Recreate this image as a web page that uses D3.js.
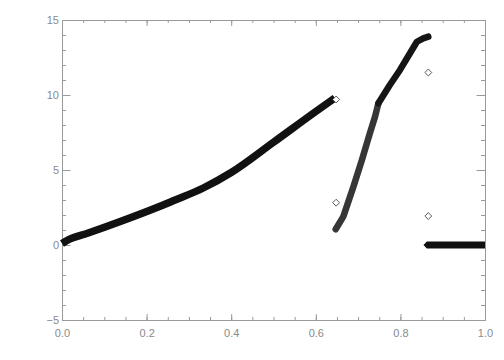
<!DOCTYPE html>
<meta charset="utf-8">
<script src="https://d3js.org/d3.v7.min.js"></script>
<style>
  body { margin: 0; background: #fff; }
  .axis { color: #9a9a9a; }
  .axis text { font-family: "Liberation Sans", Arial, sans-serif; font-size: 11px; fill: #8a8a8a; }
</style>
<body>
<div id="my_dataviz"></div>
<script>
// curve values
var curve1X = [0, 0.015, 0.062, 0.141, 0.22, 0.263, 0.334, 0.401, 0.5, 0.6, 0.645];
var curve1Y = [0.1, 0.35, 0.8, 1.6, 2.45, 2.95, 3.8, 4.85, 6.85, 8.9, 9.8];

var curve2X = [0.647, 0.665, 0.689, 0.709, 0.728, 0.740, 0.748, 0.775, 0.799, 0.823, 0.839, 0.854, 0.866];
var curve2Y = [1.05, 1.89, 3.89, 5.67, 7.47, 8.55, 9.45, 10.67, 11.67, 12.8, 13.55, 13.78, 13.89];

var curve3X = [0.862, 1.0];
var curve3Y = [0, 0];

// single diamonds off the curves
var loneX = [0.648, 0.648, 0.866, 0.866];
var loneY = [9.7, 2.82, 11.5, 1.93];

var xMajor = [0, 0.2, 0.4, 0.6, 0.8, 1.0];
var xMinor = d3.range(0, 1.0001, 0.05);
var yMajor = [-5, 0, 5, 10, 15];
var yMinor = d3.range(-5, 15.001, 1);

var margin = {top: 20, right: 19, bottom: 40, left: 62},
    width = 504 - margin.left - margin.right,
    height = 360 - margin.top - margin.bottom;

var svg = d3.select("#my_dataviz")
  .append("svg")
    .attr("width", 504)
    .attr("height", 360)
  .append("g")
    .attr("transform", "translate(" + margin.left + "," + margin.top + ")");

var x = d3.scaleLinear().domain([0, 1]).range([0, width]);
var y = d3.scaleLinear().domain([-5, 15]).range([height, 0]);

var fmtX = d3.format(".1f");
var fmtY = function(d) { return d < 0 ? "\u2212" + Math.abs(d) : d; };

// minor ticks first
svg.append("g").attr("class", "axis").attr("transform", "translate(0," + height + ")")
  .call(d3.axisBottom(x).tickValues(xMinor).tickSize(-3).tickFormat(""));
svg.append("g").attr("class", "axis")
  .call(d3.axisTop(x).tickValues(xMinor).tickSize(-3).tickFormat(""));
svg.append("g").attr("class", "axis")
  .call(d3.axisLeft(y).tickValues(yMinor).tickSize(-4).tickFormat(""));
svg.append("g").attr("class", "axis").attr("transform", "translate(" + width + ",0)")
  .call(d3.axisRight(y).tickValues(yMinor).tickSize(-4).tickFormat(""));

// major ticks + labels
svg.append("g").attr("class", "axis").attr("transform", "translate(0," + height + ")")
  .call(d3.axisBottom(x).tickValues(xMajor).tickSize(-6).tickPadding(9).tickFormat(fmtX));
svg.append("g").attr("class", "axis")
  .call(d3.axisTop(x).tickValues(xMajor).tickSize(-6).tickFormat(""));
svg.append("g").attr("class", "axis")
  .call(d3.axisLeft(y).tickValues(yMajor).tickSize(-8.5).tickPadding(3).tickFormat(fmtY));
svg.append("g").attr("class", "axis").attr("transform", "translate(" + width + ",0)")
  .call(d3.axisRight(y).tickValues(yMajor).tickSize(-8.5).tickFormat(""));

var line = d3.line()
  .x(function(d) { return x(d[0]); })
  .y(function(d) { return y(d[1]); });

var smooth = d3.line()
  .curve(d3.curveMonotoneX)
  .x(function(d) { return x(d[0]); })
  .y(function(d) { return y(d[1]); });

function pairs(xs, ys) { return xs.map(function(v, i) { return [v, ys[i]]; }); }

var c1 = pairs(curve1X, curve1Y);
var c2 = pairs(curve2X, curve2Y);
var c3 = pairs(curve3X, curve3Y);

// the dense diamond runs drawn as thick strokes
svg.append("path").datum(c1)
  .attr("d", smooth).attr("fill", "none")
  .attr("stroke", "#111").attr("stroke-width", 7.5)
  .attr("stroke-linejoin", "round");

svg.append("path").datum(c2.slice(0, 7))
  .attr("d", line).attr("fill", "none")
  .attr("stroke", "#363636").attr("stroke-width", 6.5)
  .attr("stroke-linejoin", "round").attr("stroke-linecap", "round");

svg.append("path").datum(c2.slice(6))
  .attr("d", line).attr("fill", "none")
  .attr("stroke", "#151515").attr("stroke-width", 6.5)
  .attr("stroke-linejoin", "round").attr("stroke-linecap", "round");

svg.append("path").datum(c3)
  .attr("d", line).attr("fill", "none")
  .attr("stroke", "#111").attr("stroke-width", 7)
  .attr("stroke-linejoin", "round");

// pointed left tip of the flat run
svg.append("path")
  .attr("d", d3.symbol().type(d3.symbolDiamond2).size(26))
  .attr("transform", "translate(" + x(curve3X[0]) + "," + y(curve3Y[0]) + ")")
  .attr("fill", "#111");

// lone diamonds
var diamond = d3.symbol().type(d3.symbolDiamond2).size(30);
svg.selectAll(".lone")
  .data(pairs(loneX, loneY))
  .enter()
  .append("path")
    .attr("class", "lone")
    .attr("d", diamond)
    .attr("transform", function(d) { return "translate(" + x(d[0]) + "," + y(d[1]) + ")"; })
    .attr("fill", "#fff")
    .attr("stroke", "#333")
    .attr("stroke-width", 0.8);
</script>
</body>
